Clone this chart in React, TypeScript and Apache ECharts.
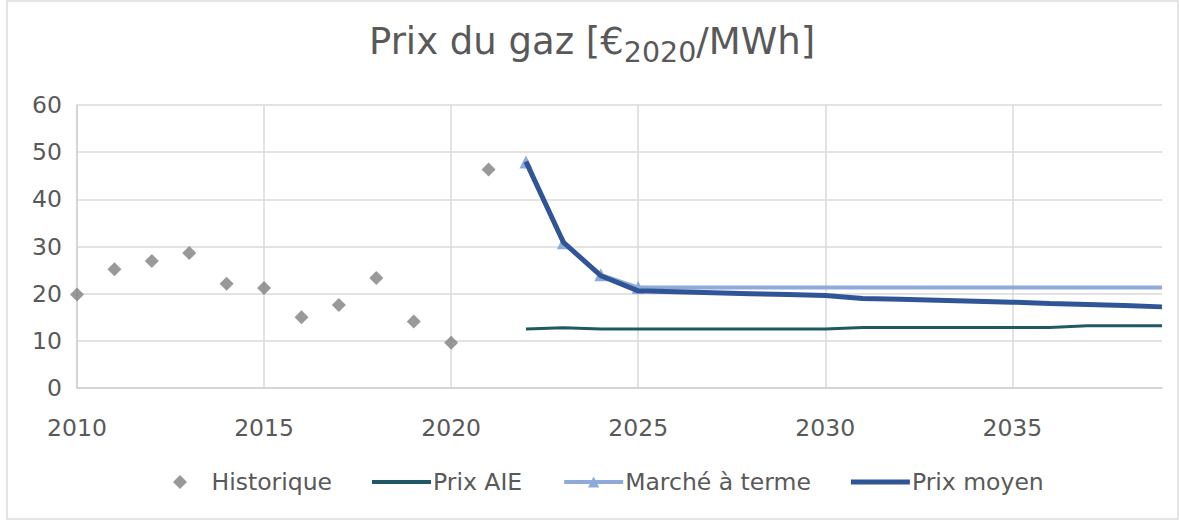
import React, { useEffect, useRef } from "react";
import * as echarts from "echarts";

const years = [
  "2010", "2011", "2012", "2013", "2014", "2015", "2016", "2017", "2018", "2019",
  "2020", "2021", "2022", "2023", "2024", "2025", "2026", "2027", "2028", "2029",
  "2030", "2031", "2032", "2033", "2034", "2035", "2036", "2037", "2038", "2039",
];

const historique = [
  19.8, 25.2, 26.9, 28.6, 22.1, 21.2, 15.0, 17.6, 23.3, 14.1, 9.6, 46.3,
  null, null, null, null, null, null, null, null, null, null, null, null, null, null, null, null, null, null,
];

const prixAIE = [
  null, null, null, null, null, null, null, null, null, null, null, null,
  12.5, 12.8, 12.5, 12.5, 12.5, 12.5, 12.5, 12.5, 12.5, 12.85, 12.85, 12.85, 12.85, 12.85, 12.85, 13.2, 13.2, 13.2,
];

const marcheATerme = [
  null, null, null, null, null, null, null, null, null, null, null, null,
  47.9, 30.8, 24.0, 21.3, 21.3, 21.3, 21.3, 21.3, 21.3, 21.3, 21.3, 21.3, 21.3, 21.3, 21.3, 21.3, 21.3, 21.3,
];
const marcheMarkerYears = ["2022", "2023", "2024", "2025"];

const prixMoyen = [
  null, null, null, null, null, null, null, null, null, null, null, null,
  48.0, 30.9, 23.8, 20.6, 20.4, 20.2, 20.0, 19.8, 19.6, 19.0, 18.8, 18.6, 18.4, 18.2, 17.9, 17.7, 17.5, 17.2,
];

const yTicks = { min: 0, max: 60, interval: 10 };

const FONT = "DejaVu Sans, Verdana, sans-serif";
const TXT = "#595959";

export default function App() {
  const ref = useRef<HTMLDivElement>(null);
  useEffect(() => {
    if (!ref.current) return;
    const chart = echarts.init(ref.current, undefined, { renderer: "svg" });
    const option: any = {
      animation: false,
      backgroundColor: "#ffffff",
      textStyle: { fontFamily: FONT, color: TXT },
      title: {
        text: "{a|Prix du gaz [€}{b|2020}{a|/MWh]}",
        left: 369,
        top: 15,
        padding: 0,
        textStyle: {
          fontWeight: "normal",
          rich: {
            a: { fontSize: 37, fontWeight: "normal", fontFamily: FONT, color: TXT, lineHeight: 52, verticalAlign: "middle" },
            b: { fontSize: 28.5, fontWeight: "normal", fontFamily: FONT, color: TXT, lineHeight: 25, verticalAlign: "bottom" },
          },
        },
      },
      graphic: [
        {
          type: "rect",
          shape: { x: 7, y: 1, width: 1171, height: 518 },
          style: { fill: "none", stroke: "#dcdcdc", lineWidth: 1.5 },
          silent: true,
          z: -1,
        },
      ],
      grid: { left: 77, right: 17, top: 105, bottom: 132, containLabel: false },
      xAxis: {
        type: "category",
        data: years,
        boundaryGap: false,
        axisLine: { show: true, lineStyle: { color: "#d0d0d0", width: 1.5 } },
        axisTick: { show: false },
        axisLabel: { interval: 4, fontSize: 23.5, color: TXT, fontFamily: FONT, margin: 28 },
        splitLine: { show: true, interval: 4, lineStyle: { color: "#dadada", width: 1.5 } },
      },
      yAxis: {
        type: "value",
        min: yTicks.min,
        max: yTicks.max,
        interval: yTicks.interval,
        axisLine: { show: true, lineStyle: { color: "#d0d0d0", width: 1.5 } },
        axisTick: { show: false },
        axisLabel: { fontSize: 23.5, color: TXT, fontFamily: FONT, margin: 15 },
        splitLine: { show: true, lineStyle: { color: "#dadada", width: 1.5 } },
      },
      legend: {
        left: 168,
        top: 465,
        itemWidth: 59,
        itemHeight: 14,
        itemGap: 40,
        textStyle: { fontSize: 23.5, color: TXT, fontFamily: FONT, padding: [0, 0, 0, -3] },
        data: [
          { name: "Historique", icon: "path://M5,0L10,5L5,10L0,5Z", itemStyle: { color: "#7f7f7f" } },
          { name: "Prix AIE", icon: "path://M0,0L59,0L59,4L0,4Z", itemStyle: { color: "#1f5a64" } },
          { name: "Marché à terme", lineStyle: { width: 4, color: "#8eaadb" } },
          { name: "Prix moyen", icon: "path://M0,0L59,0L59,5L0,5Z", itemStyle: { color: "#2f5597" } },
        ],
      },
      series: [
        {
          name: "Historique",
          type: "scatter",
          data: historique,
          symbol: "diamond",
          symbolSize: 14,
          itemStyle: { color: "#7f7f7f" },
          z: 3,
        },
        {
          name: "Prix AIE",
          type: "line",
          data: prixAIE,
          symbol: "none",
          lineStyle: { color: "#1f5a64", width: 3 },
          itemStyle: { color: "#1f5a64" },
          z: 3,
        },
        {
          name: "Marché à terme",
          type: "line",
          data: marcheATerme.map((v, i) =>
            marcheMarkerYears.includes(years[i])
              ? { value: v, symbol: "triangle", symbolSize: 13 }
              : { value: v, symbol: "none" }
          ),
          symbol: "triangle",
          symbolSize: 13,
          showSymbol: true,
          lineStyle: { color: "#8eaadb", width: 4 },
          itemStyle: { color: "#8eaadb" },
          z: 4,
        },
        {
          name: "Prix moyen",
          type: "line",
          data: prixMoyen,
          symbol: "none",
          lineStyle: { color: "#2f5597", width: 5 },
          itemStyle: { color: "#2f5597" },
          z: 5,
        },
      ],
    };
    chart.setOption(option);
    return () => chart.dispose();
  }, []);
  return (
    <div
      ref={ref}
      style={{ position: "absolute", left: 0, top: 0, width: 1179, height: 520 }}
    />
  );
}
